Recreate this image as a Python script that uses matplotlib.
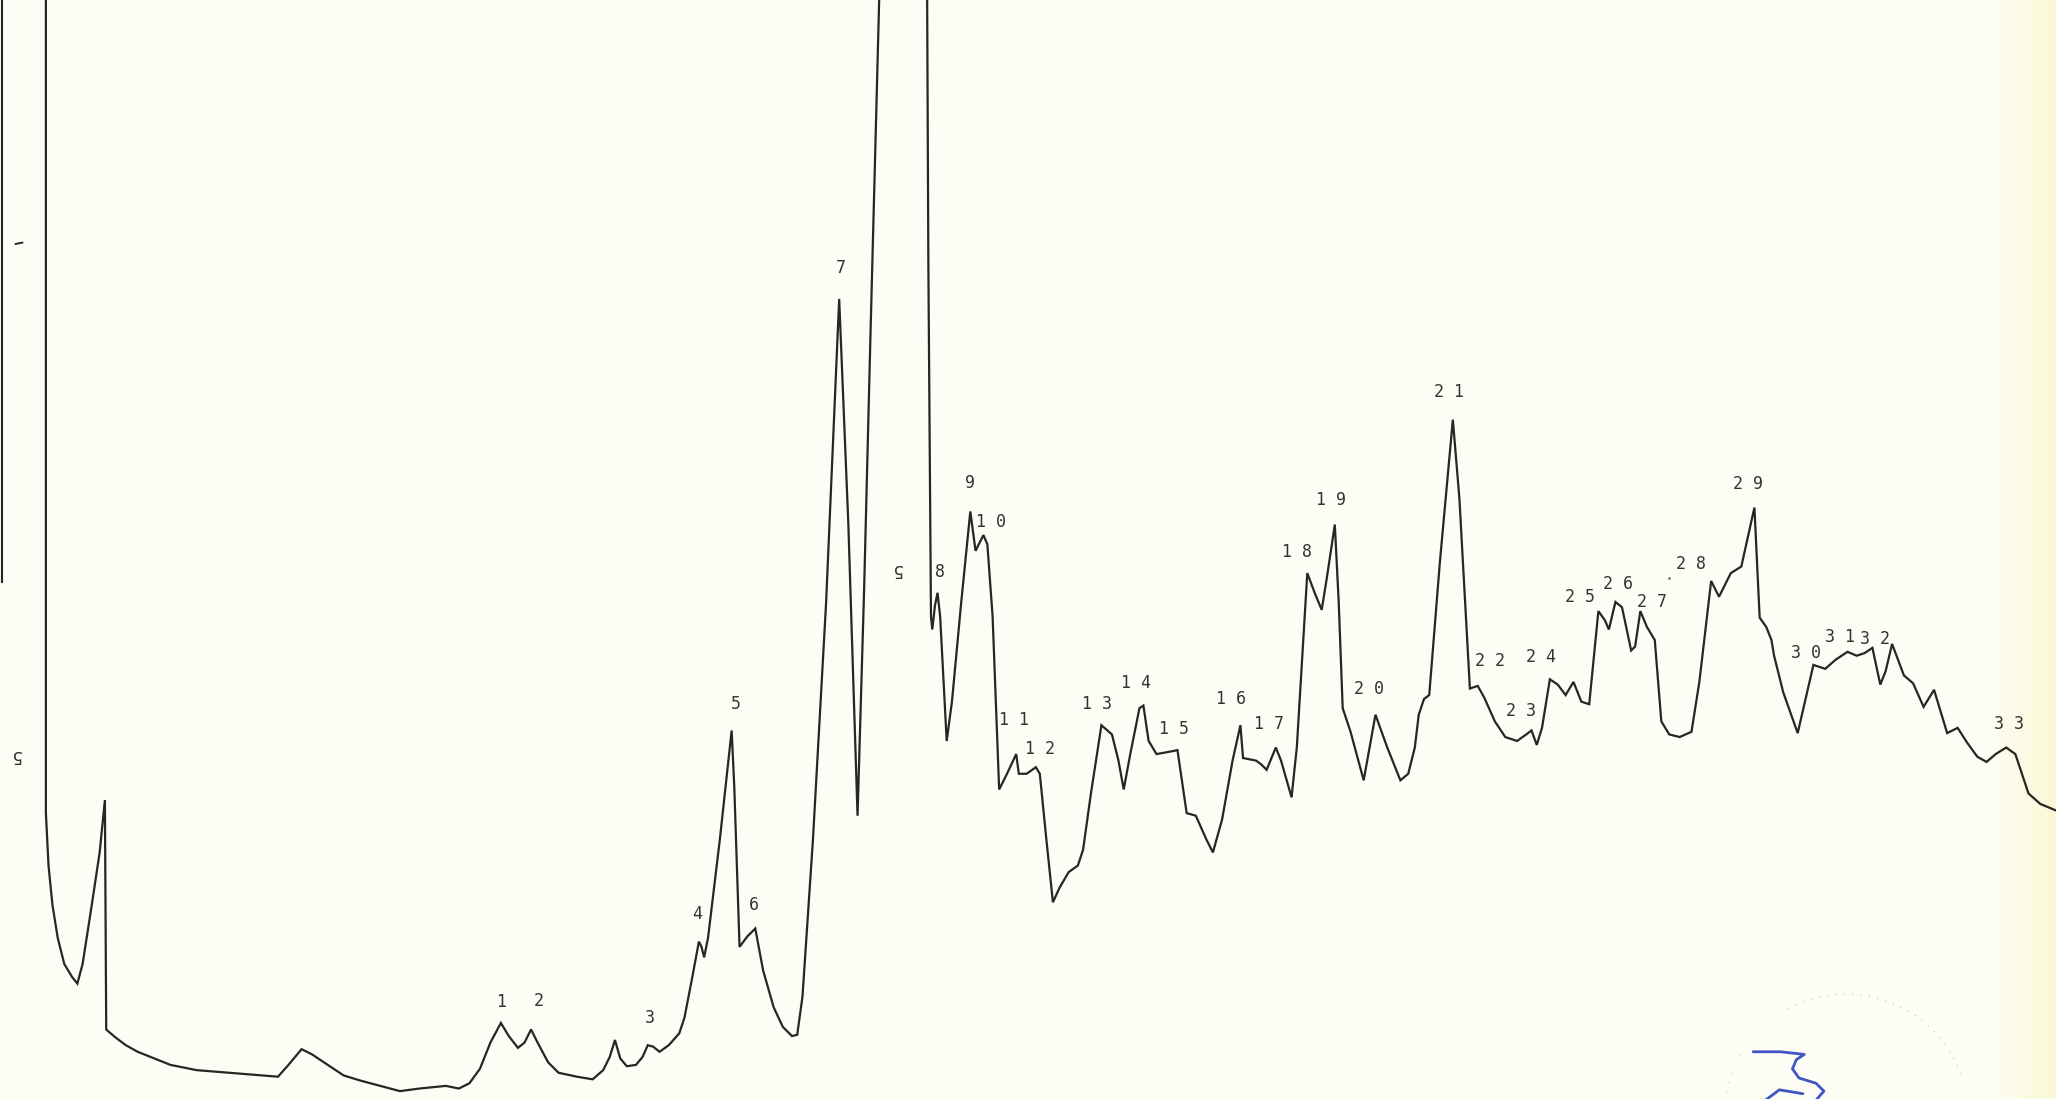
import numpy as np
import matplotlib.pyplot as plt
from matplotlib.patches import Arc

# chromatogram trace: retention (chart units) and detector response
t = [35, 35, 37, 40, 44, 49, 55, 59, 63, 70, 76, 80,
     81, 88, 96, 105, 115, 130, 150, 175, 200, 212, 220, 230, 238, 250,
     262, 275, 290, 305, 320, 340, 350, 358, 366, 374, 382, 388, 395, 400,
     405, 410, 418, 426, 440, 452, 460, 465, 469, 473, 478, 485, 490, 494,
     498, 503, 510, 518, 522, 528, 533, 535, 537, 540, 549, 558, 560, 564,
     570, 576, 582, 590, 597, 604, 608, 612, 620, 630, 640, 647, 654, 659,
     664, 669, 671,
     707, 708, 710, 711, 713, 715, 717, 722, 726, 733, 740, 744, 750, 753,
     757, 762, 768, 775, 777, 783, 790, 793, 798, 803, 808, 815, 822, 826,
     832, 840, 848, 853, 857, 862, 869, 872, 876, 882, 893, 898, 905, 912,
     920, 925, 932, 940, 946, 948, 958, 962, 966, 973, 977, 985, 989, 997,
     1003, 1008, 1012, 1018, 1021, 1024, 1030, 1040, 1049, 1058, 1068, 1074,
     1079, 1082, 1086, 1090, 1098, 1108, 1113, 1121, 1127, 1132, 1140, 1148,
     1157, 1164, 1168, 1172, 1176, 1182, 1188, 1194, 1200, 1206, 1212, 1219,
     1224, 1227, 1232, 1237, 1244, 1247, 1251, 1256, 1262, 1267, 1273, 1281,
     1290, 1296, 1305, 1311, 1316, 1320, 1328, 1338, 1342, 1347, 1351, 1353,
     1360, 1371, 1383, 1392, 1400, 1409, 1416, 1422, 1428, 1434, 1438, 1443,
     1452, 1459, 1467, 1475, 1485, 1493, 1500, 1508, 1515, 1522, 1530, 1537,
     1547, 1556, 1568]
y_px = [-20, 620, 660, 690, 715, 735, 745, 750, 735, 690, 650, 610,
        785, 791, 797, 802, 806, 812, 816, 818, 820, 821, 812, 800, 804, 812,
        820, 824, 828, 832, 830, 828, 830, 826, 815, 795, 780, 790, 799, 795,
        785, 795, 810, 818, 821, 823, 816, 806, 793, 807, 813, 812, 806, 797,
        798, 802, 797, 788, 776, 745, 718, 722, 730, 715, 640, 557, 600, 722,
        714, 708, 740, 768, 783, 790, 789, 760, 640, 460, 228, 400, 622, 450,
        250, 60, -20,
        -20, 200, 470, 480, 462, 452, 470, 565, 535, 460, 390, 420, 408, 415,
        470, 602, 590, 575, 590, 590, 585, 590, 640, 688, 677, 665, 660, 648,
        605, 553, 560, 580, 602, 575, 540, 538, 565, 575, 573, 572, 620, 622,
        640, 650, 625, 580, 553, 578, 580, 583, 587, 570, 580, 608, 570, 437,
        453, 465, 440, 400, 460, 540, 558, 595, 545, 570, 595, 590,
        570, 545, 533, 530, 430, 320, 380, 525, 523, 532, 550, 562,
        565, 560, 557, 568, 555, 518, 522, 530, 520, 535, 537, 466,
        473, 480, 459, 463, 496, 493, 466, 478, 488, 550, 560, 562,
        558, 520, 443, 455, 445, 437, 432, 387, 471, 478, 488, 500,
        528, 559, 507, 510, 503, 497, 500, 498, 494, 522, 512, 491,
        515, 521, 539, 526, 559, 555, 566, 577, 581, 575, 570, 575,
        605, 613, 618]
signal = [838 - v for v in y_px]

# peak numbers printed by the integrator
peak_labels = ['1', '2', '3', '4', '5', '6', '7', '8', '9', '1 0',
               '1 1', '1 2', '1 3', '1 4', '1 5', '1 6', '1 7', '1 8', '1 9', '2 0',
               '2 1', '2 2', '2 3', '2 4', '2 5', '2 6', '2 7', '2 8', '2 9', '3 0',
               '3 1', '3 2', '3 3']
label_t = [382, 411, 496, 532, 561, 575, 641, 717, 740, 756,
           773, 793, 837, 866, 895, 939, 968, 989, 1015, 1044,
           1105, 1136, 1160, 1175, 1205, 1234, 1260, 1290, 1333, 1377,
           1403, 1430, 1532]
label_y = [764, 763, 776, 697, 537, 690, 204, 436, 368, 398,
           549, 571, 537, 521, 556, 533, 552, 421, 381, 525,
           299, 504, 542, 501, 455, 445, 459, 430, 369, 498,
           486, 487, 552]

# injection marks (printed upside down)
mark_t = [12, 684]
mark_y = [576, 434]

ink = '#262622'
text_ink = '#34342e'
paper = '#fdfdf6'

fig = plt.figure(figsize=(20.56, 10.99), dpi=100)
fig.patch.set_facecolor(paper)
ax = fig.add_axes([0, 0, 1, 1])
ax.set_facecolor(paper)
ax.set_xlim(0, 1568)
ax.set_ylim(0, 838)
ax.axis('off')

# yellowed paper at the right edge
w = 400
grad = np.zeros((50, w, 4))
ramp = np.clip(np.linspace(-0.4, 1.0, w), 0, 1) ** 1.3
grad[..., 0] = 0.985
grad[..., 1] = 0.975
grad[..., 2] = 0.82
grad[..., 3] = ramp[None, :] * 0.9
ax.imshow(grad, extent=(1480, 1568, 0, 838), aspect='auto', zorder=0,
          interpolation='bilinear')

# pen trace of the previous run at the left edge
ax.plot([1.5, 1.5], [838, 838 - 444], color=ink, lw=1.5, zorder=2)
ax.plot([12, 17], [838 - 186, 838 - 185], color=ink, lw=1.4, zorder=2)

ax.plot(t, signal, color=ink, lw=1.6, zorder=3, solid_joinstyle='miter')

for lab, x, y in zip(peak_labels, label_t, label_y):
    ax.text(x, 838 - y, lab, fontsize=12, family='DejaVu Sans Mono',
            color=text_ink, ha='center', va='center', zorder=4)

for x, y in zip(mark_t, mark_y):
    ax.text(x, 838 - y, '5', fontsize=12.5, family='DejaVu Sans Mono',
            color=text_ink, ha='center', va='center', rotation=180, zorder=4)

ax.plot([1273], [838 - 441], marker='.', ms=2, color='#777770', zorder=4)

# faded stamp and handwritten note at the bottom right
stamp = Arc((1408, 838 - 851), 186, 186, theta1=20, theta2=120,
            color='#a8b0a8', lw=1.0, linestyle=(0, (1, 5)), alpha=0.5, zorder=1)
ax.add_patch(stamp)
stamp_left = Arc((1408, 838 - 851), 186, 186, theta1=150, theta2=175,
                 color='#a8b0a8', lw=1.0, linestyle=(0, (1, 6)), alpha=0.4, zorder=1)
ax.add_patch(stamp_left)
ax.plot([1337, 1358, 1376, 1370, 1367, 1372, 1385, 1391, 1384],
        [838 - v for v in [802, 802, 804, 808, 815, 822, 826, 832, 840]],
        color='#3f55c4', lw=2.0, zorder=5, solid_capstyle='round')
ax.plot([1345, 1357, 1375],
        [838 - v for v in [840, 831, 834]],
        color='#3f55c4', lw=2.0, zorder=5, solid_capstyle='round')

fig.savefig('out.png', dpi=100, facecolor=paper)
